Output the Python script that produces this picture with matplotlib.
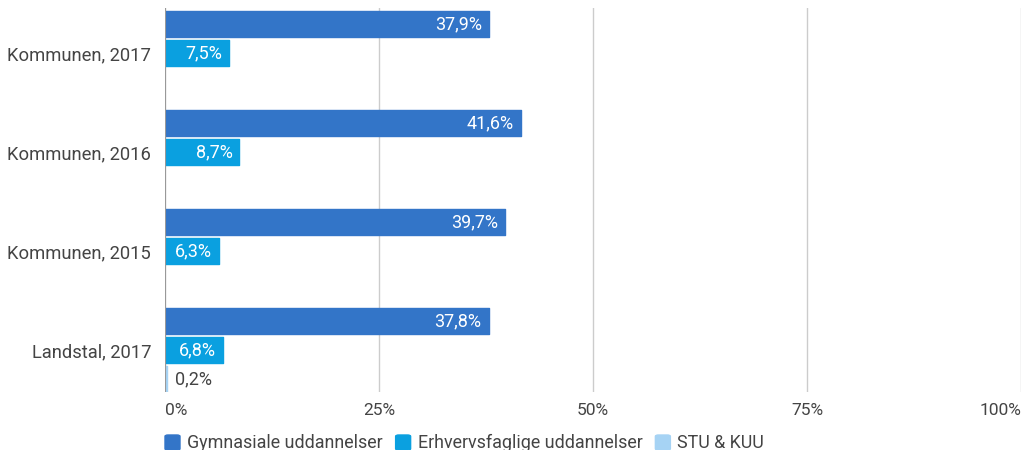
import matplotlib.pyplot as plt
from matplotlib.patches import FancyBboxPatch
import numpy as np

plt.rcParams['font.family'] = ['Roboto', 'DejaVu Sans']

categories = ['Kommunen, 2017', 'Kommunen, 2016', 'Kommunen, 2015', 'Landstal, 2017']
series = ['Gymnasiale uddannelser', 'Erhvervsfaglige uddannelser', 'STU & KUU']
gym = [37.9, 41.6, 39.7, 37.8]
erhv = [7.5, 8.7, 6.3, 6.8]
stu = [None, None, None, 0.2]
ticks = [0, 25, 50, 75, 100]
tick_labels = ['0%', '25%', '50%', '75%', '100%']

colors = ['#3375c8', '#0aa0e0', '#a6d3f4']
grey_text = '#444444'

W, H = 1025, 450
fig = plt.figure(figsize=(W / 100, H / 100), dpi=100)
ax = fig.add_axes([165 / W, 1 - 392 / H, (1021 - 165) / W, (392 - 8) / H])

bar_h = 0.255
step = 0.293
ypos = np.arange(len(categories))

for k, vals in enumerate([gym, erhv, stu]):
    for i, v in enumerate(vals):
        if v is None:
            continue
        y = ypos[i] + (k - 1) * step
        ax.barh(y, v, height=bar_h, color=colors[k], edgecolor=colors[k],
                linewidth=1, joinstyle='round', zorder=3)
        label = f'{v:.1f}%'.replace('.', ',')
        if v > 3:
            ax.annotate(label, (v, y), xytext=(-5, 0), textcoords='offset points',
                        ha='right', va='center', color='white', fontsize=13, zorder=4)
        else:
            ax.annotate(label, (v, y), xytext=(6, 0), textcoords='offset points',
                        ha='left', va='center', color=grey_text, fontsize=13, zorder=4)

ax.set_xlim(0, 100)
ax.set_ylim(3 + 42 / 99, -45 / 99)
ax.set_yticks(ypos)
ax.set_yticklabels(categories, fontsize=13.2, color=grey_text)
ax.set_xticks(ticks)
ax.set_xticklabels(tick_labels, fontsize=12.5, color=grey_text)
xl = ax.get_xticklabels()
xl[0].set_ha('left')
xl[-1].set_ha('right')

ax.grid(axis='x', color='#cccccc', linewidth=1, zorder=0)
ax.axvline(0, color='#999999', linewidth=1.5, zorder=5)
for s in ax.spines.values():
    s.set_visible(False)
ax.tick_params(axis='both', length=0, pad=10)
ax.tick_params(axis='x', pad=8)

# legend row along the bottom edge
lx = 165 / W
for name, c in zip(series, colors):
    box = FancyBboxPatch((lx, 1 - 450 / H), 15 / W, 15 / H,
                         boxstyle='round,pad=0,rounding_size=0.003',
                         transform=fig.transFigure, color=c, clip_on=False)
    fig.patches.append(box)
    t = fig.text(lx + 22 / W, 1 - 443 / H, name, fontsize=12.9, color=grey_text,
                 va='center', ha='left')
    fig.canvas.draw()
    bb = t.get_window_extent()
    lx = (bb.x1 + 13) / W

fig.savefig('out.png', dpi=100)
